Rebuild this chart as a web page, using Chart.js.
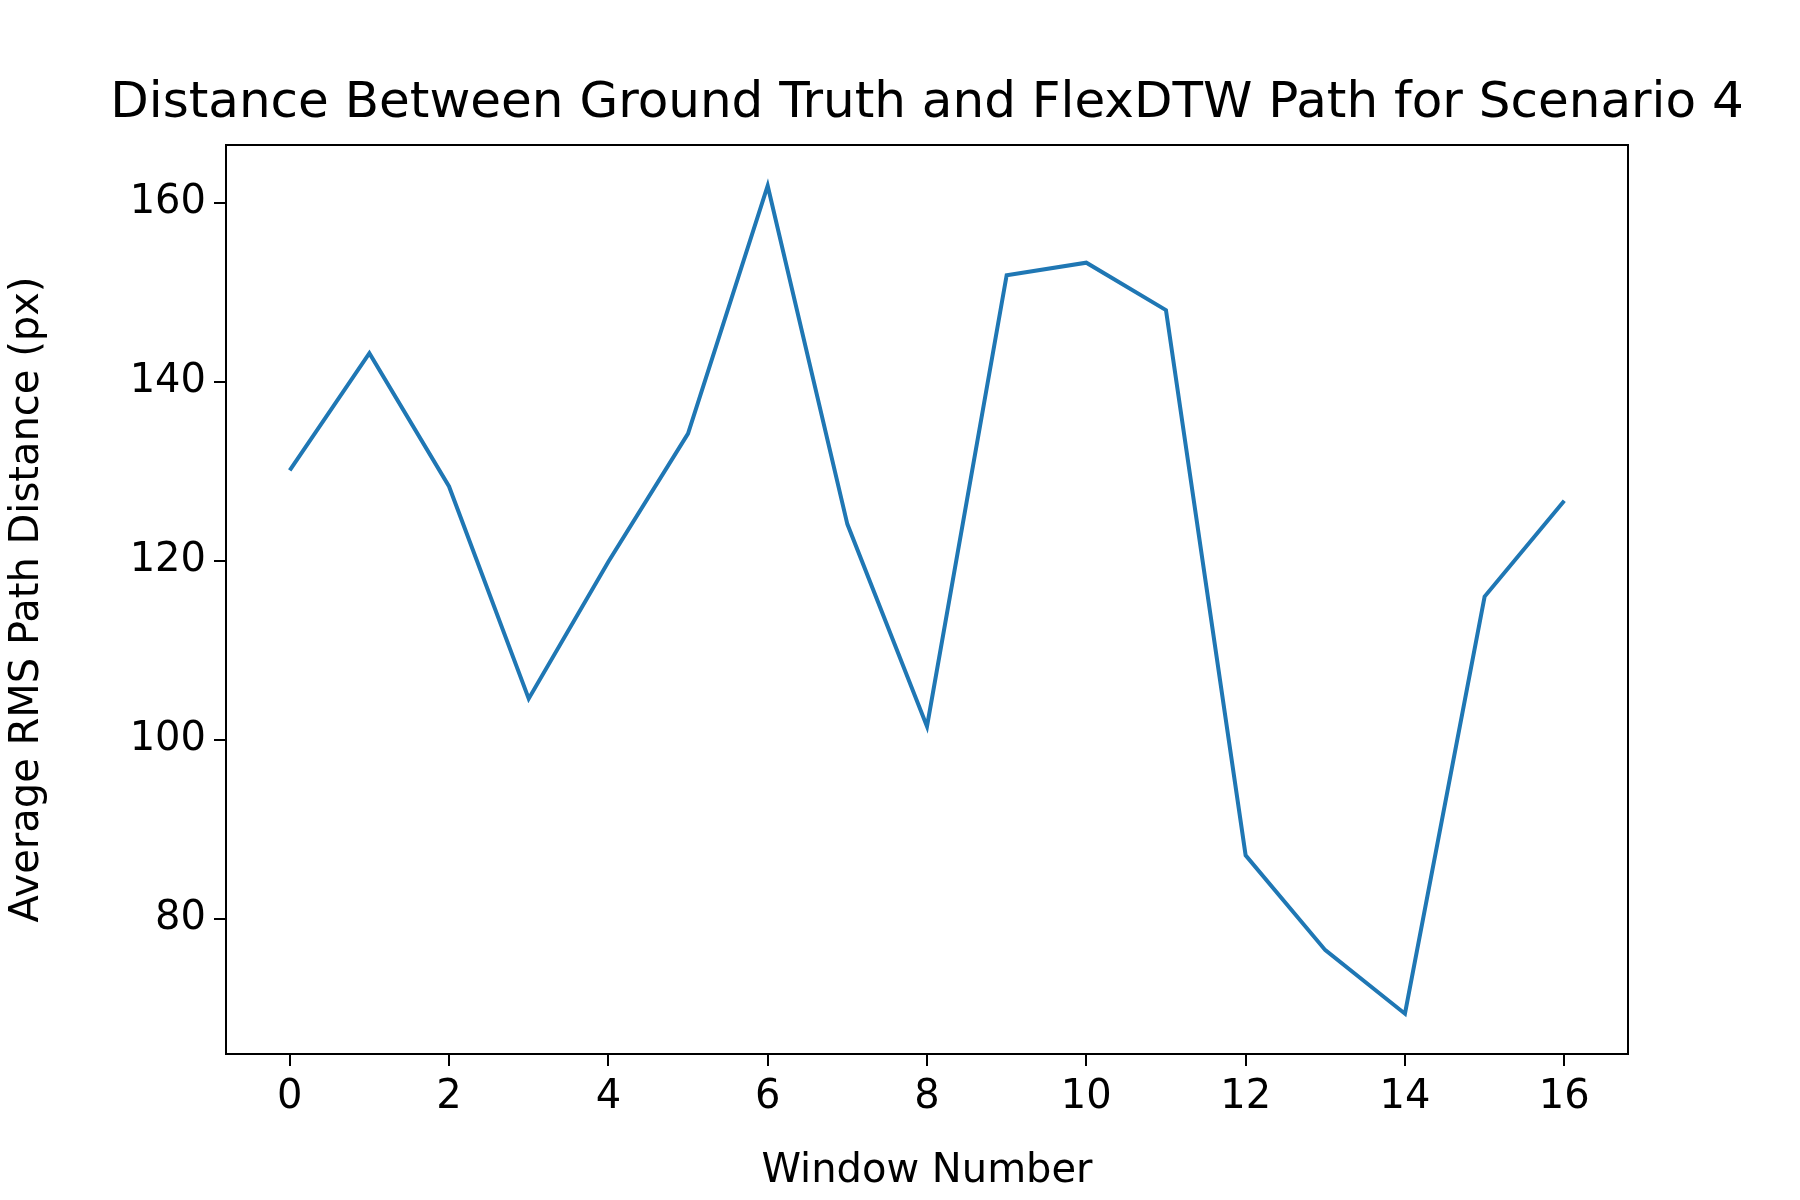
<!DOCTYPE html>
<html>
<head>
<meta charset="utf-8">
<script src="https://cdn.jsdelivr.net/npm/chart.js@4/dist/chart.umd.min.js"></script>
<style>
  html, body { margin: 0; padding: 0; background: #fff; }
  #wrap { width: 1800px; height: 1200px; }
</style>
</head>
<body>
<div id="wrap"><canvas id="chart" width="1800" height="1200"></canvas></div>
<script>
const windows = [0, 1, 2, 3, 4, 5, 6, 7, 8, 9, 10, 11, 12, 13, 14, 15, 16];
const rmsDistance = [130.1, 143.2, 128.3, 104.6, 119.9, 134.2, 161.9, 124.1, 101.5, 151.9, 153.3, 148.0, 87.1, 76.5, 69.4, 116.0, 126.7];
const xTicks = [0, 2, 4, 6, 8, 10, 12, 14, 16];
const yTicks = [80, 100, 120, 140, 160];

const FONT = 'DejaVu Sans';

// frame + title drawn on the canvas
const frameAndTitle = {
    id: 'frameAndTitle',
    afterDraw(chart) {
        const { ctx, chartArea: a } = chart;
        ctx.save();
        ctx.strokeStyle = '#000';
        ctx.lineWidth = 2;
        ctx.strokeRect(a.left, a.top, a.right - a.left, a.bottom - a.top);
        ctx.fillStyle = '#000';
        ctx.font = `50px "${FONT}"`;
        ctx.textAlign = 'center';
        ctx.textBaseline = 'middle';
        ctx.fillText('Distance Between Ground Truth and FlexDTW Path for Scenario 4', (a.left + a.right) / 2, 104);
        ctx.restore();
    }
};

new Chart(document.getElementById('chart').getContext('2d'), {
    type: 'line',
    data: {
        datasets: [{
            data: windows.map((w, i) => ({ x: w, y: rmsDistance[i] })),
            borderColor: '#1f77b4',
            borderWidth: 4,
            pointRadius: 0,
            tension: 0,
            fill: false
        }]
    },
    options: {
        responsive: false,
        animation: false,
        layout: { padding: { top: 145, right: 172, left: 0, bottom: 0 } },
        plugins: { legend: { display: false }, title: { display: false }, tooltip: { enabled: false } },
        scales: {
            x: {
                type: 'linear',
                min: -0.8,
                max: 16.8,
                afterBuildTicks: (s) => { s.ticks = xTicks.map(v => ({ value: v })); },
                afterFit: (s) => { s.height = 146; },
                ticks: { color: '#000', font: { family: FONT, size: 40 }, padding: 8, maxRotation: 0 },
                grid: { drawOnChartArea: false, color: '#000', tickLength: 12, lineWidth: 2 },
                border: { display: true, color: '#000', width: 2 },
                title: { display: true, text: 'Window Number', color: '#000', font: { family: FONT, size: 40 }, padding: { top: 6 } }
            },
            y: {
                min: 64.9,
                max: 166.45,
                afterBuildTicks: (s) => { s.ticks = yTicks.map(v => ({ value: v })); },
                afterFit: (s) => { s.width = 226; },
                ticks: { color: '#000', font: { family: FONT, size: 40 }, padding: 8 },
                grid: { drawOnChartArea: false, color: '#000', tickLength: 12, lineWidth: 2 },
                border: { display: true, color: '#000', width: 2 },
                title: { display: true, text: 'Average RMS Path Distance (px)', color: '#000', font: { family: FONT, size: 40 }, padding: { bottom: 10 } }
            }
        }
    },
    plugins: [frameAndTitle]
});
</script>
</body>
</html>
